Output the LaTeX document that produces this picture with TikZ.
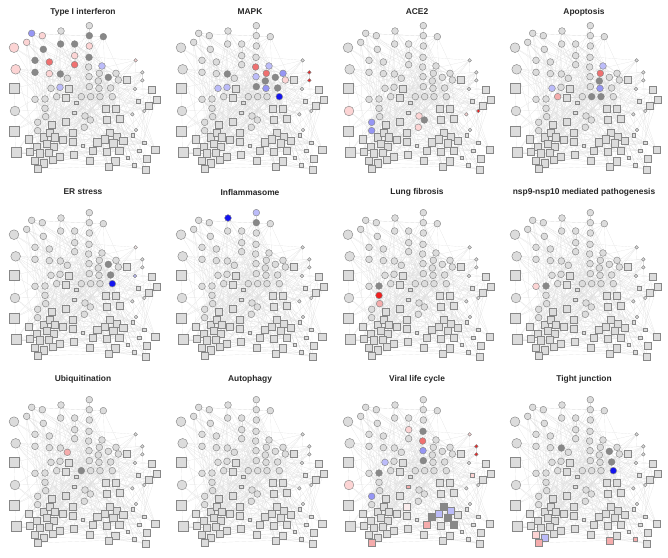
\documentclass[tikz,border=0pt]{standalone}
\usepackage{fontspec}
\setmainfont{Liberation Sans}
\usetikzlibrary{backgrounds}
\definecolor{nodegray}{RGB}{220,220,220}
\definecolor{nodeline}{RGB}{135,135,135}
\definecolor{dk}{RGB}{136,136,136}
\definecolor{pink}{RGB}{252,212,212}
\definecolor{palepink}{RGB}{250,236,236}
\definecolor{midpink}{RGB}{245,172,172}
\definecolor{midred}{RGB}{240,112,112}
\definecolor{red}{RGB}{240,30,30}
\definecolor{paleblue}{RGB}{188,188,250}
\definecolor{midblue}{RGB}{150,150,245}
\definecolor{blue}{RGB}{20,20,240}
\definecolor{edgegray}{RGB}{222,222,222}
\tikzset{nd/.style={draw=nodeline,line width=0.45pt,inner sep=0pt,outer sep=0pt},
  circ/.style={nd,circle,minimum size=6.7pt},
  bigcirc/.style={nd,circle,minimum size=9.7pt},
  smallcirc/.style={nd,circle,minimum size=3.6pt},
  sq/.style={nd,rectangle,minimum size=7.2pt},
  bigsq/.style={nd,rectangle,minimum size=10pt},
  smallsq/.style={nd,rectangle,minimum size=3.6pt},
  edge/.style={draw=edgegray,line width=0.15pt},
  ttl/.style={font=\bfseries\fontsize{8.4}{10}\selectfont,text=black!85,inner sep=0pt}}
% network layout (same in every panel)
\def\nodelist{268/77/circ,95/100/circ,127/107/circ,183/93/circ,268/107/circ,310/110/circ,
80/127/circ,42/143/bigcirc,130/148/circ,182/132/circ,224/132/circ,268/138/circ,
224/167/circ,267/172/circ,105/181/circ,148/186/circ,407/181/smallcirc,47/208/bigcirc,
224/194/circ,266/201/circ,306/198/circ,105/217/circ,148/221/circ,181/222/circ,
202/235/circ,267/230/circ,298/220/circ,325/232/circ,348/220/circ,355/240/circ,
427/217/smallcirc,427/241/smallcirc,42/265/bigsq,380/240/sq,153/265/circ,180/262/circ,
205/265/sq,268/260/circ,297/265/circ,332/264/circ,405/267/smallcirc,455/270/sq,
105/298/circ,135/297/circ,170/290/circ,198/292/sq,244/290/circ,272/290/circ,
300/290/circ,337/290/circ,415/303/smallsq,228/308/smallsq,470/298/sq,447/317/sq,
318/327/sq,348/327/sq,135/325/circ,45/333/bigcirc,433/333/smallcirc,397/343/smallcirc,
223/338/smallsq,137/350/circ,255/348/circ,271/360/circ,253/382/circ,196/365/sq,
155/375/sq,320/360/sq,360/357/sq,113/367/circ,113/392/circ,42/393/bigsq,
408/390/smallcirc,330/398/sq,398/405/smallsq,85/418/sq,130/412/sq,150/398/sq,
218/398/sq,110/440/sq,140/432/sq,165/412/sq,188/420/sq,160/440/sq,
218/425/sq,248/437/smallsq,90/455/sq,120/460/sq,145/458/sq,180/470/sq,
158/480/sq,105/482/sq,130/490/sq,112/507/sq,222/465/sq,268/483/sq,
292/427/sq,315/418/sq,350/410/sq,370/422/sq,340/430/sq,320/455/sq,
358/452/sq,277/452/sq,346/484/sq,326/501/sq,440/477/sq,466/449/sq,
437/509/sq,433/428/smallsq,418/452/smallsq,383/473/smallsq,403/496/smallsq,48/458/bigsq,
295/243/circ}
\newcommand{\hlset}[2]{\foreach \n/\c in {#2}{%
  \expandafter\xdef\csname hl-#1-\n\endcsname{\c}}}
\newcommand{\drawpanel}[5]{%
  \begin{scope}[shift={(#2,#3)},x=0.3333pt,y=-0.3333pt]
    \foreach \x/\y/\t [count=\i] in \nodelist {
      \ifcsname hl-#1-\i\endcsname\edef\fc{\csname hl-#1-\i\endcsname}\else\def\fc{nodegray}\fi
      \edef\nopts{\t,fill=\fc}
      \expandafter\node\expandafter[\nopts] (p#1-\i) at (\x,\y) {};
      \xdef\nnodes{\i}
    }
    \begin{pgfonlayer}{background}
      \pgfmathsetseed{7}
      \foreach \k in {1,...,340}{
        \pgfmathrandominteger{\ea}{1}{\nnodes}
        \pgfmathrandominteger{\eb}{1}{\nnodes}
        \ifnum\ea=\eb\else\draw[edge] (p#1-\ea) -- (p#1-\eb);\fi
      }
    \end{pgfonlayer}
  \end{scope}
  \node[ttl] (t#1) at (#2+83,#5) {#4};
}
\hlset{a}{2/midblue,3/pink,7/pink,8/pink,9/dk,10/dk,11/dk,12/pink,5/dk,6/dk,13/pink,14/dk,15/dk,16/midred,19/midred,21/paleblue,17/pink,18/pink,22/dk,23/pink,24/dk,28/dk,36/paleblue}
\hlset{b}{20/midred,21/paleblue,27/midred,29/midblue,24/dk,26/paleblue,28/dk,30/pink,115/dk,38/dk,39/midblue,40/dk,50/blue,31/red,32/red,35/paleblue,36/paleblue}
\hlset{c}{58/pink,70/midblue,71/midblue,63/pink,64/dk,65/pink,60/pink,59/red}
\hlset{d}{21/paleblue,27/midred,115/dk,39/midblue,48/dk,49/dk,35/paleblue,45/midpink}
\hlset{e}{28/dk,40/dk,50/blue,17/palepink,41/paleblue}
\hlset{f}{4/blue,1/paleblue,5/dk}
\hlset{g}{44/dk,57/red,62/midpink}
\hlset{h}{43/pink,44/dk}
\hlset{i}{25/midpink,47/dk}
\hlset{k}{13/pink,14/dk,20/midred,26/midblue,38/dk,35/paleblue,44/dk,70/midblue,58/pink,31/red,32/red,17/pink,51/pink,61/midpink,79/palepink,74/dk,97/dk,101/dk,103/dk,98/paleblue,99/paleblue,104/midpink,94/midpink}
\hlset{l}{24/dk,28/dk,40/dk,50/blue,92/pink,94/midpink,93/paleblue,106/midpink,113/midpink}
\begin{document}
\begin{tikzpicture}[x=1pt,y=-1pt]
\useasboundingbox (0,0) rectangle (668,557);
\drawpanel{a}{0}{0}{Type I interferon}{12}
\drawpanel{b}{167}{0}{MAPK}{12}
\drawpanel{c}{334}{0}{ACE2}{12}
\drawpanel{d}{501}{0}{Apoptosis}{12}
\drawpanel{e}{0}{187}{ER stress}{192}
\drawpanel{f}{167}{187}{Inflammasome}{192}
\drawpanel{g}{334}{187}{Lung fibrosis}{192}
\drawpanel{h}{501}{187}{nsp9-nsp10 mediated pathogenesis}{192}
\drawpanel{i}{0}{374}{Ubiquitination}{379}
\drawpanel{j}{167}{374}{Autophagy}{379}
\drawpanel{k}{334}{374}{Viral life cycle}{379}
\drawpanel{l}{501}{374}{Tight junction}{379}
\end{tikzpicture}
\end{document}
